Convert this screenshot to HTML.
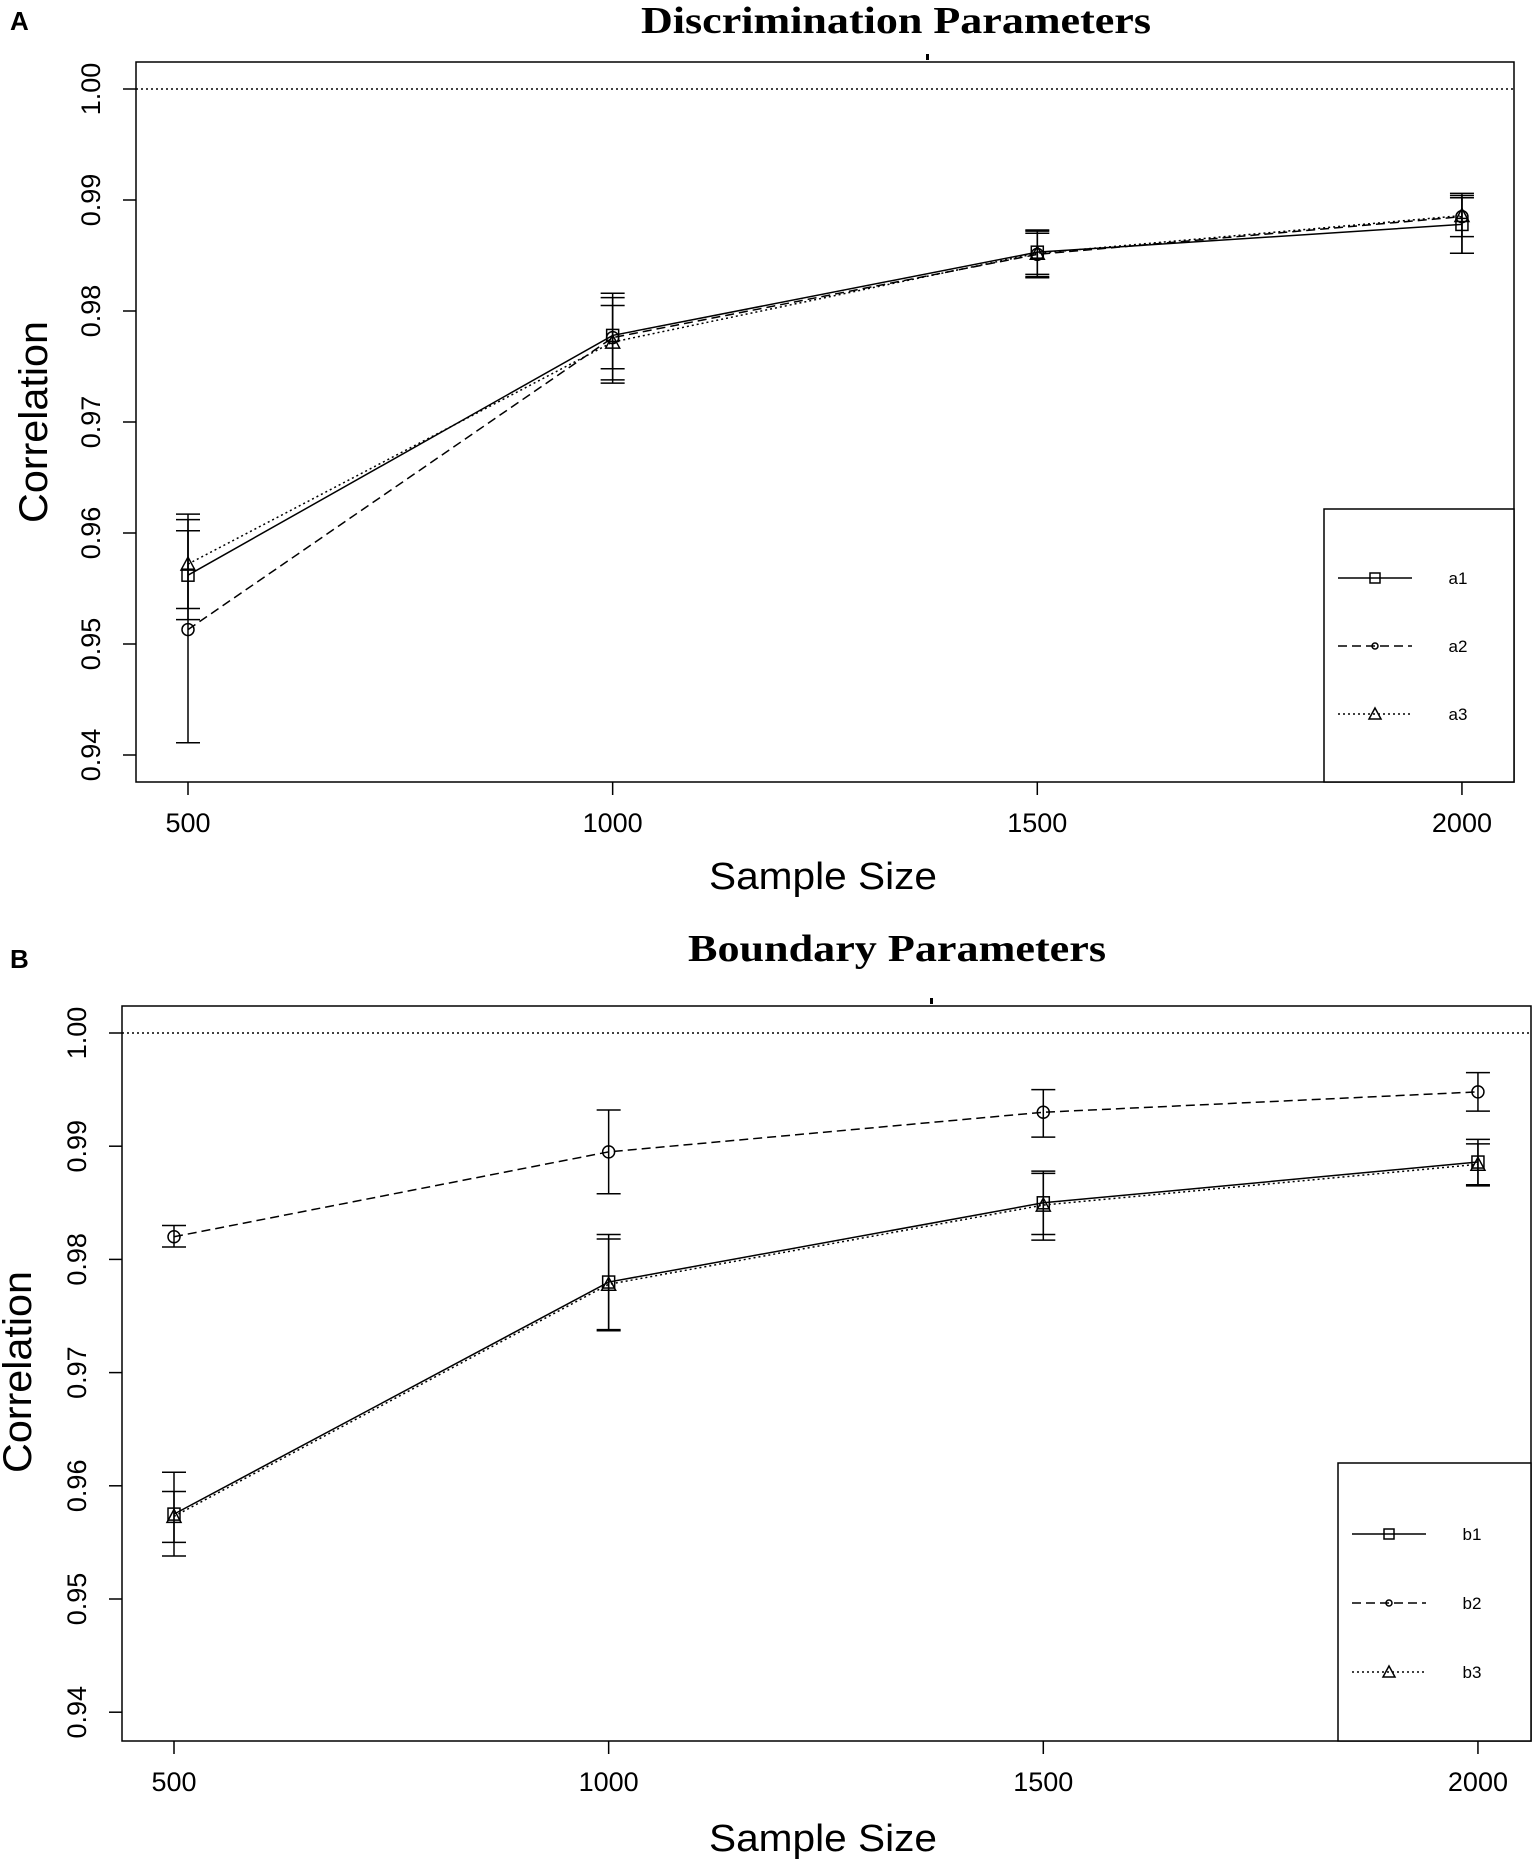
<!DOCTYPE html>
<html><head><meta charset="utf-8"><style>
html,body{margin:0;padding:0;background:#fff}
svg{display:block}
</style></head><body>
<svg id="chart" width="1535" height="1865" viewBox="0 0 1535 1865" xmlns="http://www.w3.org/2000/svg">
<text x="10" y="30" font-family="Liberation Sans, sans-serif" font-weight="bold" font-size="26">A</text>
<text x="10" y="968" font-family="Liberation Sans, sans-serif" font-weight="bold" font-size="26">B</text>
</svg>
<script>
const categories = [500, 1000, 1500, 2000];
const yTicks = [0.94, 0.95, 0.96, 0.97, 0.98, 0.99, 1.00];
const yTickLabels = ["0.94", "0.95", "0.96", "0.97", "0.98", "0.99", "1.00"];
const xTickLabels = ["500", "1000", "1500", "2000"];
const seriesNamesA = ["a1", "a2", "a3"];
const seriesNamesB = ["b1", "b2", "b3"];
// Panel A values
const a1Values = [0.9562, 0.9778, 0.9853, 0.9878];
const a1Lower = [0.9522, 0.9748, 0.9833, 0.9852];
const a1Upper = [0.9602, 0.9812, 0.9873, 0.9902];
const a2Values = [0.9513, 0.9776, 0.9851, 0.9885];
const a2Lower = [0.9411, 0.9738, 0.9830, 0.9867];
const a2Upper = [0.9612, 0.9816, 0.9870, 0.9906];
const a3Values = [0.9572, 0.9772, 0.9852, 0.9886];
const a3Lower = [0.9532, 0.9735, 0.9831, 0.9852];
const a3Upper = [0.9617, 0.9805, 0.9872, 0.9904];
// Panel B values
const b1Values = [0.9575, 0.9780, 0.9850, 0.9886];
const b1Lower = [0.9538, 0.9738, 0.9822, 0.9866];
const b1Upper = [0.9612, 0.9822, 0.9878, 0.9906];
const b2Values = [0.9820, 0.9895, 0.9930, 0.9948];
const b2Lower = [0.9811, 0.9858, 0.9908, 0.9931];
const b2Upper = [0.9830, 0.9932, 0.9950, 0.9965];
const b3Values = [0.9573, 0.9778, 0.9848, 0.9884];
const b3Lower = [0.9550, 0.9737, 0.9817, 0.9865];
const b3Upper = [0.9595, 0.9818, 0.9876, 0.9902];

const NS = "http://www.w3.org/2000/svg";
const svg = document.getElementById("chart");
function mk(tag, attrs, parent) {
  const e = document.createElementNS(NS, tag);
  for (const k in attrs) e.setAttribute(k, attrs[k]);
  (parent || svg).appendChild(e);
  return e;
}
const dashes = ["", "9,5", "2,3"];

function drawPanel(p) {
  const g = mk("g", {});
  
  
  const x = v => p.x0 + (v - 500) * p.xs;
  const y = v => p.y1 + (1 - v) * p.ys;
  const font = "Liberation Sans, sans-serif";
  // title
  const t = mk("text", {x: p.titleX, y: p.titleY, "text-anchor": "middle", "font-family": "Liberation Serif, serif", "font-weight": "bold", "font-size": 38, textLength: p.titleW, lengthAdjust: "spacingAndGlyphs"}, g);
  t.textContent = p.title;
  
  
  // top mark
  const tm = mk("rect", {x: p.markX, y: p.boxT - 8, width: 3, height: 6, fill: "#000"}, g);
  
  
  // reference line
  const rl = mk("line", {x1: p.boxL, x2: p.boxR, y1: y(1), y2: y(1), stroke: "#000", "stroke-width": 1.5, "stroke-dasharray": "2,3"}, g);
  
  
  // box
  const bx = mk("rect", {x: p.boxL, y: p.boxT, width: p.boxR - p.boxL, height: p.boxB - p.boxT, fill: "none", stroke: "#000", "stroke-width": 1.5}, g);
  
  
  // y ticks
  yTicks.forEach((v, i) => {
    const l = mk("line", {x1: p.boxL - 13, x2: p.boxL, y1: y(v), y2: y(v), stroke: "#000", "stroke-width": 1.5}, g);
    
    
    const tx = p.boxL - 36;
    const lb = mk("text", {x: tx, y: y(v), transform: `rotate(-90 ${tx} ${y(v)})`, "text-anchor": "middle", "font-family": font, "font-size": 27}, g);
    lb.textContent = yTickLabels[i];
    
    
  });
  // x ticks
  categories.forEach((c, i) => {
    const l = mk("line", {x1: x(c), x2: x(c), y1: p.boxB, y2: p.boxB + 13, stroke: "#000", "stroke-width": 1.5}, g);
    
    
    const lb = mk("text", {x: x(c), y: p.boxB + 50, "text-anchor": "middle", "font-family": font, "font-size": 27}, g);
    lb.textContent = xTickLabels[i];
    
    
  });
  // axis titles
  const xt = mk("text", {x: p.xTitleX, y: p.xTitleY, "text-anchor": "middle", "font-family": font, "font-size": 38, textLength: 228, lengthAdjust: "spacingAndGlyphs"}, g);
  xt.textContent = "Sample Size";
  
  
  const yt = mk("text", {x: p.yTitleX, y: p.yTitleY, transform: `rotate(-90 ${p.yTitleX} ${p.yTitleY})`, "text-anchor": "middle", "font-family": font, "font-size": 40, textLength: 202, lengthAdjust: "spacingAndGlyphs"}, g);
  yt.textContent = "Correlation";
  
  
  // series
  p.series.forEach((s, si) => {
    const pts = categories.map((c, i) => [x(c), y(s.vals[i])]);
    const ln = mk("polyline", {points: pts.map(q => q.join(",")).join(" "), fill: "none", stroke: "#000", "stroke-width": 1.5, "stroke-dasharray": dashes[si]}, g);
    
    
    categories.forEach((c, i) => {
      const cx = x(c), lo = y(s.lo[i]), hi = y(s.hi[i]);
      const eb = mk("path", {d: `M${cx},${lo}V${hi}M${cx-12},${lo}H${cx+12}M${cx-12},${hi}H${cx+12}`, stroke: "#000", "stroke-width": 1.5, fill: "none"}, g);
      
      
      const m = marker(si, cx, y(s.vals[i]), g, 6);
      
      
    });
  });
  // legend
  const lg = mk("rect", {x: p.legL, y: p.legT, width: p.boxR - p.legL, height: p.boxB - p.legT, fill: "#fff", stroke: "#000", "stroke-width": 1.5}, g);
  
  
  p.series.forEach((s, si) => {
    const ly = p.legY[si];
    const l = mk("line", {x1: p.legL + 14, x2: p.legL + 88, y1: ly, y2: ly, stroke: "#000", "stroke-width": 1.5, "stroke-dasharray": dashes[si]}, g);
    
    
    const m = marker(si, p.legL + 51, ly, g, si === 1 ? 3 : 5);
    
    
    const tx = mk("text", {x: p.legL + 134, y: ly + 6, "text-anchor": "middle", "font-family": font, "font-size": 17}, g);
    tx.textContent = s.name;
    
    
  });
}
function marker(si, cx, cy, g, r) {
  if (si === 0) return mk("rect", {x: cx - r, y: cy - r, width: 2 * r, height: 2 * r, fill: "none", stroke: "#000", "stroke-width": 1.5}, g);
  if (si === 1) return mk("circle", {cx: cx, cy: cy, r: r, fill: "none", stroke: "#000", "stroke-width": 1.5}, g);
  return mk("path", {d: `M${cx},${cy - r - 1}L${cx + r + 1},${cy + r}L${cx - r - 1},${cy + r}Z`, fill: "none", stroke: "#000", "stroke-width": 1.5}, g);
}

drawPanel({id: "discrimination", title: "Discrimination Parameters", titleX: 896, titleY: 33, titleW: 510,
  x0: 188, xs: 0.8493, y1: 89, ys: 11100, boxL: 136, boxR: 1514, boxT: 62, boxB: 782, markX: 926,
  xTitleX: 823, xTitleY: 889, yTitleX: 47, yTitleY: 422,
  legL: 1324, legT: 509, legY: [578, 646, 714],
  series: [
    {name: seriesNamesA[0], vals: a1Values, lo: a1Lower, hi: a1Upper},
    {name: seriesNamesA[1], vals: a2Values, lo: a2Lower, hi: a2Upper},
    {name: seriesNamesA[2], vals: a3Values, lo: a3Lower, hi: a3Upper}]});

drawPanel({id: "boundary", title: "Boundary Parameters", titleX: 897, titleY: 961, titleW: 418,
  x0: 174, xs: 0.8693, y1: 1033, ys: 11320, boxL: 122, boxR: 1531, boxT: 1006, boxB: 1741, markX: 930,
  xTitleX: 823, xTitleY: 1851, yTitleX: 31, yTitleY: 1372,
  legL: 1338, legT: 1463, legY: [1534, 1603, 1672],
  series: [
    {name: seriesNamesB[0], vals: b1Values, lo: b1Lower, hi: b1Upper},
    {name: seriesNamesB[1], vals: b2Values, lo: b2Lower, hi: b2Upper},
    {name: seriesNamesB[2], vals: b3Values, lo: b3Lower, hi: b3Upper}]});
</script>
</body></html>
